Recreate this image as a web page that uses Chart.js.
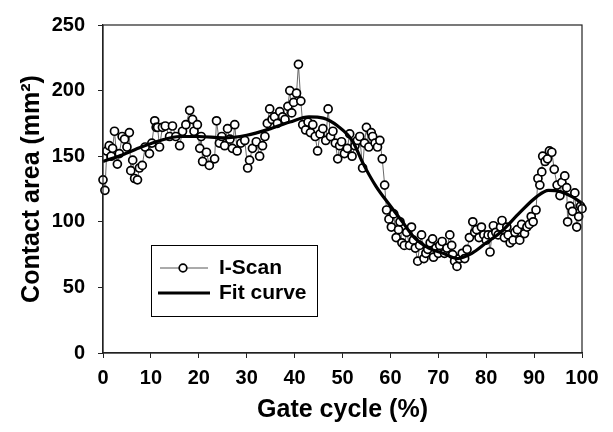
<!DOCTYPE html>
<html>
<head>
<meta charset="utf-8">
<script src="https://cdn.jsdelivr.net/npm/chart.js"></script>
<style>
html, body { margin: 0; padding: 0; background: #fff; }
</style>
</head>
<body>
<canvas id="grafica" width="613" height="432"></canvas>
<script>
// I-Scan measurement (gate cycle %, contact area mm2)
const scanX = [
    0.0, 0.4, 0.8, 1.3, 1.7, 2.0, 2.4, 3.0, 3.4, 4.0, 4.5, 5.0, 5.5, 5.8, 6.2, 6.6, 7.2, 7.6, 8.2, 8.8,
    9.7, 10.2, 10.8, 11.1, 11.4, 11.8, 12.4, 13.0, 13.9, 14.5, 15.2, 16.0, 16.6, 17.3, 18.1, 18.7, 19.0, 19.7, 20.2, 20.5,
    20.8, 21.6, 22.2, 23.3, 23.7, 24.3, 24.8, 25.4, 26.0, 26.5, 27.0, 27.5, 28.0, 28.8, 29.6, 30.2, 30.6, 31.2, 32.0, 32.7,
    33.3, 33.8, 34.3, 34.8, 35.3, 35.8, 36.4, 36.9, 37.5, 38.0, 38.6, 39.0, 39.4, 39.8, 40.4, 40.8, 41.3, 41.7, 42.3, 42.8,
    43.3, 43.8, 44.3, 44.8, 45.3, 45.9, 46.5, 47.0, 47.5, 48.0, 48.5, 49.0, 49.4, 49.8, 50.4, 51.0, 51.5, 52.0, 52.6, 53.1,
    53.6, 54.2, 54.6, 55.0, 55.5, 56.0, 56.3, 56.8, 57.3, 57.8, 58.3, 58.8, 59.2, 59.7, 60.2, 60.7, 61.2, 61.7, 62.0, 62.4,
    62.9, 63.4, 64.0, 64.4, 64.8, 65.2, 65.7, 66.1, 66.5, 67.0, 67.4, 67.8, 68.3, 68.8, 69.0, 69.5, 70.0, 70.3, 70.8, 71.3,
    71.8, 72.4, 72.8, 73.0, 73.4, 73.9, 74.4, 75.0, 75.5, 76.0, 76.5, 77.2, 77.6, 78.0, 78.5, 79.0, 79.5, 80.0, 80.4, 80.8,
    81.2, 81.5, 82.0, 82.5, 83.0, 83.3, 83.8, 84.3, 84.6, 85.0, 85.6, 86.0, 86.5, 87.0, 87.4, 88.0, 88.5, 89.0, 89.4, 89.8,
    90.4, 90.8, 91.2, 91.6, 91.8, 92.3, 92.8, 93.2, 93.7, 94.2, 94.8, 95.4, 95.8, 96.4, 96.8, 97.0, 97.5, 98.0, 98.5, 98.9,
    99.3, 99.7, 100.0
];
const scanY = [
    132, 124, 154, 158, 150, 156, 169, 144, 152, 165, 163, 157, 168, 139, 147, 133, 132, 141, 143, 157,
    152, 160, 177, 172, 172, 157, 172, 173, 165, 173, 165, 158, 169, 174, 185, 178, 169, 174, 156, 165,
    146, 153, 143, 148, 177, 160, 165, 158, 171, 163, 156, 174, 154, 160, 162, 141, 147, 156, 161, 150,
    158, 165, 175, 186, 178, 180, 175, 184, 180, 178, 188, 200, 183, 191, 198, 220, 192, 174, 170, 176,
    168, 174, 165, 154, 167, 171, 162, 186, 165, 169, 160, 148, 158, 161, 152, 156, 167, 150, 158, 162,
    165, 141, 160, 172, 157, 168, 165, 160, 157, 162, 148, 128, 109, 102, 96, 106, 88, 94, 100, 84,
    82, 92, 82, 96, 86, 80, 70, 82, 90, 72, 76, 79, 84, 87, 73, 80, 76, 82, 85, 76,
    80, 90, 82, 75, 70, 66, 72, 76, 72, 79, 88, 100, 92, 94, 88, 96, 90, 86, 90, 77,
    90, 97, 92, 90, 96, 101, 88, 96, 90, 84, 86, 92, 94, 86, 98, 91, 96, 98, 104, 100,
    109, 133, 128, 138, 150, 146, 148, 154, 153, 140, 128, 120, 130, 135, 126, 100, 112, 108, 122, 96,
    104, 112, 110
];
// fitted curve
const fitX = [0, 4, 8, 12, 16, 20, 25, 30, 35, 39, 43, 46, 49, 52, 54.5, 57, 60, 62.5, 65, 68, 71, 74, 77, 80, 83, 87, 90.5, 93, 95.5, 98, 100];
const fitY = [146, 151, 157, 162, 165, 165, 164, 166, 171, 176, 180, 179, 173, 162, 143, 127, 112, 100, 88, 80, 76, 72, 76, 84, 92, 107, 119, 124, 123, 119, 114];

const xTicks = [0, 10, 20, 30, 40, 50, 60, 70, 80, 90, 100];
const yTicks = [0, 50, 100, 150, 200, 250];

const fuente = "'Liberation Sans', Arial, sans-serif";

const marco = {
    id: "marco",
    afterDraw(chart) {
        const c = chart.ctx;
        const a = chart.chartArea;
        c.save();
        c.strokeStyle = "#222";
        c.lineWidth = 1.2;
        c.strokeRect(a.left, a.top, a.right - a.left, a.bottom - a.top);

        // legend box inside the plot
        const bx = a.left + 48, by = a.top + 220, bw = 166, bh = 71;
        c.fillStyle = "#fff";
        c.fillRect(bx, by, bw, bh);
        c.strokeStyle = "#000";
        c.lineWidth = 1;
        c.strokeRect(bx + 0.5, by + 0.5, bw, bh);

        const y1 = by + 23, y2 = by + 48;
        c.beginPath();
        c.moveTo(bx + 9, y1);
        c.lineTo(bx + 57, y1);
        c.lineWidth = 0.9;
        c.strokeStyle = "#444";
        c.stroke();
        c.beginPath();
        c.arc(bx + 32, y1, 3.8, 0, Math.PI * 2);
        c.fillStyle = "#fff";
        c.fill();
        c.lineWidth = 1.7;
        c.strokeStyle = "#000";
        c.stroke();

        c.beginPath();
        c.moveTo(bx + 7, y2);
        c.lineTo(bx + 59, y2);
        c.lineWidth = 3.2;
        c.stroke();

        c.fillStyle = "#000";
        c.font = "bold 21px " + fuente;
        c.textBaseline = "middle";
        c.textAlign = "left";
        c.fillText("I-Scan", bx + 68, y1);
        c.fillText("Fit curve", bx + 68, y2);
        c.restore();
    }
};

const data = {
    datasets: [{
        label: "I-Scan",
        data: scanX.map((x, i) => ({ x: x, y: scanY[i] })),
        showLine: true,
        borderColor: "#444",
        borderWidth: 0.8,
        pointRadius: 4,
        pointBorderWidth: 1.7,
        pointBorderColor: "#000",
        pointBackgroundColor: "#fff",
        clip: false,
        order: 2
    }, {
        label: "Fit curve",
        data: fitX.map((x, i) => ({ x: x, y: fitY[i] })),
        showLine: true,
        borderColor: "#000",
        borderWidth: 3.2,
        pointRadius: 0,
        tension: 0.4,
        cubicInterpolationMode: "monotone",
        clip: false,
        order: 1
    }]
};

const config = {
    type: "scatter",
    data: data,
    plugins: [marco],
    options: {
        responsive: false,
        animation: false,
        devicePixelRatio: 1,
        layout: { padding: { top: 19, right: 31, left: 0, bottom: 0 } },
        plugins: {
            legend: { display: false },
            tooltip: { enabled: false }
        },
        scales: {
            x: {
                type: "linear",
                min: 0,
                max: 100,
                afterBuildTicks: s => { s.ticks = xTicks.map(v => ({ value: v })); },
                afterFit: s => { s.height = 79; },
                grid: { drawOnChartArea: false, tickLength: 5, color: "#222" },
                border: { color: "#222", width: 1.2 },
                ticks: { color: "#000", padding: 8, font: { family: fuente, size: 20, weight: "bold" } },
                title: {
                    display: true,
                    text: "Gate cycle (%)",
                    color: "#000",
                    padding: { top: 0, bottom: 7 },
                    font: { family: fuente, size: 25, weight: "bold" }
                }
            },
            y: {
                type: "linear",
                min: 0,
                max: 250,
                afterBuildTicks: s => { s.ticks = yTicks.map(v => ({ value: v })); },
                afterFit: s => { s.width = 103; },
                grid: { drawOnChartArea: false, tickLength: 5, color: "#222" },
                border: { color: "#222", width: 1.2 },
                ticks: { color: "#000", padding: 13, font: { family: fuente, size: 20, weight: "bold" } },
                title: {
                    display: true,
                    text: "Contact area (mm²)",
                    color: "#000",
                    padding: { top: 17, bottom: 0 },
                    font: { family: fuente, size: 25, weight: "bold" }
                }
            }
        }
    }
};

const ctx = document.querySelector("#grafica");
const grafica = new Chart(ctx, config);
</script>
</body>
</html>
